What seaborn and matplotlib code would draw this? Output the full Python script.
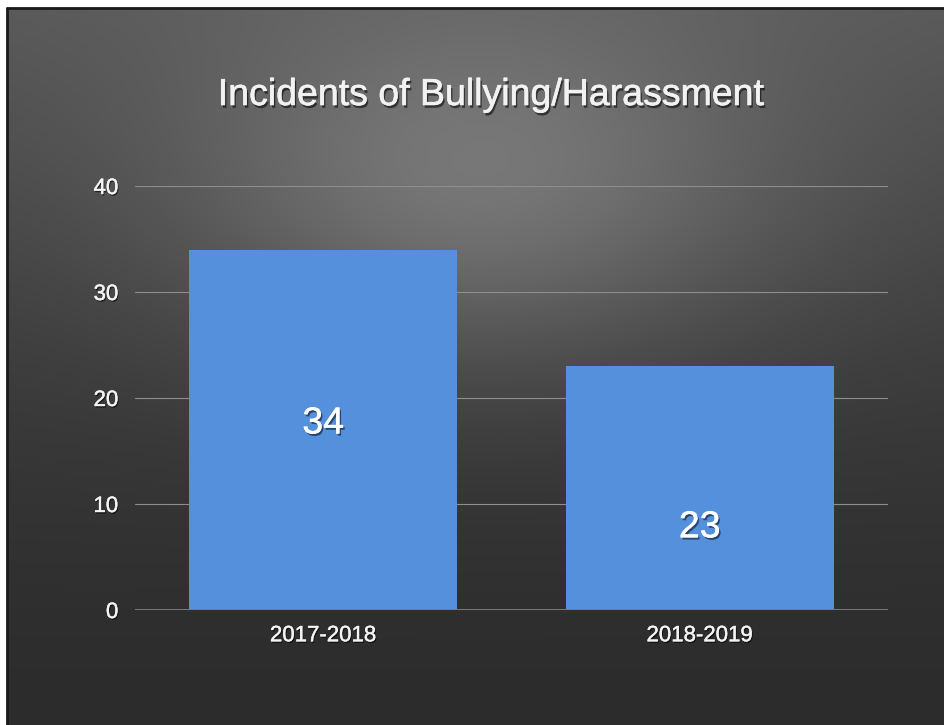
import numpy as np
import pandas as pd
import matplotlib
matplotlib.use("Agg")
import matplotlib.pyplot as plt
import matplotlib.patheffects as pe
import seaborn as sns

# Chart data
school_years = ["2017-2018", "2018-2019"]
incidents = [34, 23]
y_ticks = [0, 10, 20, 30, 40]
title_text = "Incidents of Bullying/Harassment"

# Where the in-bar value labels sit (data units on the y axis)
label_heights = [17.6, 7.8]

sns.set_theme(style="dark")
plt.rcParams["font.family"] = ["Liberation Sans", "DejaVu Sans"]

W, H = 944, 725
fig = plt.figure(figsize=(W / 100, H / 100), dpi=100, facecolor="white")

# Dark slide background with a soft light glow near the top
bg_left, bg_top = 7, 8
bg = fig.add_axes([bg_left / W, 0, 1 - bg_left / W, 1 - bg_top / H], zorder=-10)
ny, nx = H - bg_top, W - bg_left
yy, xx = np.mgrid[0:ny, 0:nx]
ypix = yy + bg_top
xpix = xx + bg_left
t = ypix / H
base = 44 + 46 * (1 - t) ** 1.5
glow = 45 * np.exp(-((xpix - 480) / 300.0) ** 2 - ((ypix - 190) / 180.0) ** 2)
v = np.clip(base + glow, 0, 255) / 255.0
bg.imshow(np.dstack([v, v, v]), aspect="auto", extent=[0, 1, 0, 1], interpolation="bilinear")
bg.set_xlim(0, 1)
bg.set_ylim(0, 1)
bg.axis("off")
bg.plot([0, 0], [0, 1], color="#1a1a1a", lw=2, transform=bg.transAxes, clip_on=False)
bg.plot([0, 1], [1, 1], color="#1a1a1a", lw=2, transform=bg.transAxes, clip_on=False)

# Plot area
left, right, bottom, top = 135, 888, 610, 186
ax = fig.add_axes([left / W, 1 - bottom / H, (right - left) / W, (bottom - top) / H])
ax.set_facecolor("none")

df = pd.DataFrame({"year": school_years, "count": incidents})
sns.barplot(data=df, x="year", y="count", color="#5590dc", saturation=1,
            width=0.713, ax=ax, zorder=3, edgecolor="none")

ax.set_xlim(-0.5, 1.5)
ax.set_ylim(0, 40)
ax.set_yticks(y_ticks)
ax.set_xlabel("")
ax.set_ylabel("")
for s in ax.spines.values():
    s.set_visible(False)

# Horizontal gridlines
ax.grid(False)
for yv in y_ticks[1:]:
    ax.axhline(yv, color="#8e8e8e", lw=0.8, zorder=1)
ax.axhline(0, color="#7a7a7a", lw=1.4, zorder=4)


def text_effects(color, off, alpha, stroke):
    return [pe.SimplePatchShadow(offset=off, shadow_rgbFace="black", alpha=alpha),
            pe.Stroke(linewidth=stroke, foreground=color), pe.Normal()]


ax.tick_params(axis="both", length=0, colors="white", labelsize=16)
ax.tick_params(axis="y", pad=12)
ax.tick_params(axis="x", pad=11)
for lbl in ax.get_xticklabels() + ax.get_yticklabels():
    lbl.set_color("#f4f4f4")
    lbl.set_path_effects(text_effects("#f4f4f4", (0.8, -1.2), 0.55, 0.3))

# Value labels inside the bars
for i, (val, yh) in enumerate(zip(incidents, label_heights)):
    ax.text(i, yh, f"{val}", ha="center", va="center", color="white",
            fontsize=27, zorder=5,
            path_effects=text_effects("white", (1.2, -1.6), 0.5, 0.3))

fig.text(491 / W, 1 - 95 / H, title_text, ha="center", va="center",
         color="#f2f2f2", fontsize=27,
         path_effects=text_effects("#f2f2f2", (1.2, -2.0), 0.55, 0.45))

fig.savefig("out.png", dpi=100, facecolor="white")
